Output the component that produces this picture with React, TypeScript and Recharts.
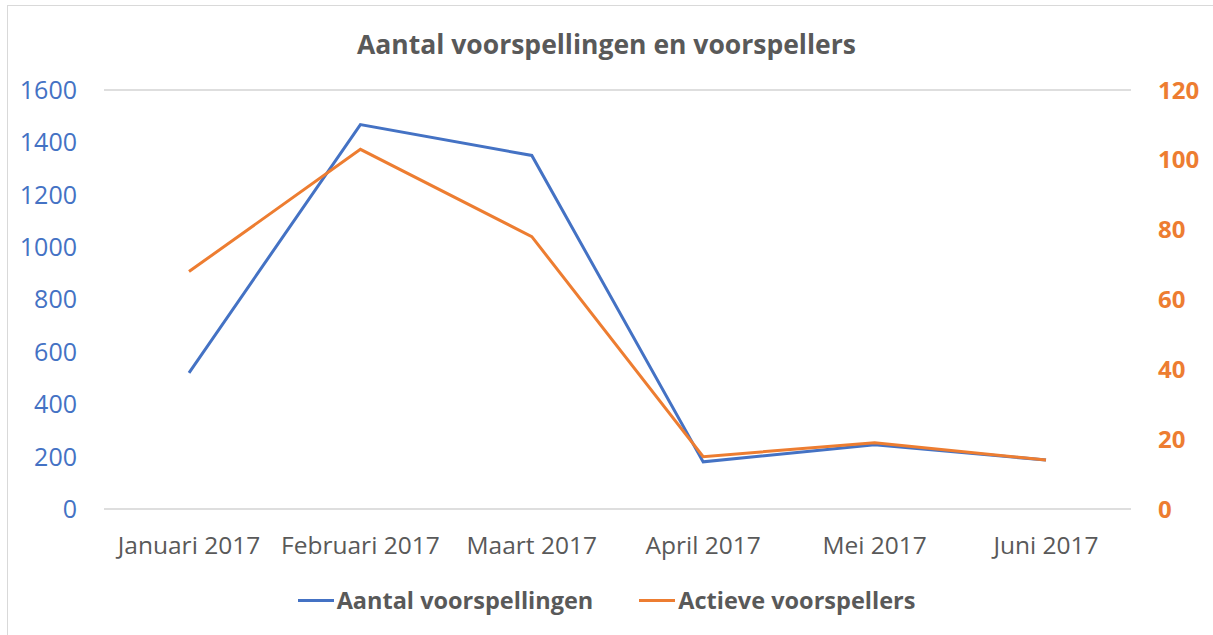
import { LineChart, Line, XAxis, YAxis, CartesianGrid } from "recharts";

// ── Data ──────────────────────────────────────────────────────────────────────

const months = ["Januari 2017", "Februari 2017", "Maart 2017", "April 2017", "Mei 2017", "Juni 2017"];
const voorspellingen = [520, 1468, 1350, 180, 245, 187];
const voorspellers = [68, 103, 78, 15, 19, 14];
const leftTicks = [0, 200, 400, 600, 800, 1000, 1200, 1400, 1600];
const rightTicks = [0, 20, 40, 60, 80, 100, 120];

const data = months.map((m, i) => ({
  month: m,
  "Aantal voorspellingen": voorspellingen[i],
  "Actieve voorspellers": voorspellers[i],
}));

const BLUE = "#4472C4";
const ORANGE = "#ED7D31";
const GREY = "#595959";
const FONT = "'Open Sans', sans-serif";

function ChartLegend() {
  const items = [
    { name: "Aantal voorspellingen", color: BLUE },
    { name: "Actieve voorspellers", color: ORANGE },
  ];
  return (
    <div
      style={{
        position: "absolute",
        top: 584,
        left: 0,
        width: 1213,
        display: "flex",
        justifyContent: "center",
        gap: 46,
        fontFamily: FONT,
      }}
    >
      {items.map((it) => (
        <div key={it.name} style={{ display: "flex", alignItems: "center" }}>
          <span style={{ display: "inline-block", width: 36, height: 3, background: it.color, marginRight: 3 }} />
          <span style={{ fontSize: 23.5, fontWeight: 700, color: GREY, lineHeight: "32px" }}>{it.name}</span>
        </div>
      ))}
    </div>
  );
}

export default function App() {
  return (
    <div
      style={{
        position: "absolute",
        left: 0,
        top: 0,
        width: 1213,
        height: 635,
        background: "#fff",
        fontFamily: FONT,
        overflow: "hidden",
      }}
    >
      <div
        style={{
          position: "absolute",
          left: 7,
          top: 5,
          right: -2,
          bottom: -2,
          borderLeft: "1px solid #d9d9d9",
          borderTop: "1px solid #d9d9d9",
        }}
      />
      <div
        style={{
          position: "absolute",
          top: 26,
          left: 0,
          width: 1213,
          textAlign: "center",
          fontSize: 26.5,
          fontWeight: 700,
          color: GREY,
          lineHeight: "36px",
        }}
      >
        Aantal voorspellingen en voorspellers
      </div>
      <LineChart
        width={1213}
        height={635}
        data={data}
        margin={{ top: 90, right: 0, bottom: 76, left: 0 }}
        style={{ position: "absolute", left: 0, top: 0 }}
      >
        <CartesianGrid stroke="#dedede" strokeWidth={2} vertical={false} />
        <XAxis
          dataKey="month"
          axisLine={false}
          tickLine={false}
          tickSize={0}
          tickMargin={28}
          height={50}
          interval={0}
          padding={{ left: 85, right: 85 }}
          tick={{ fill: GREY, fontSize: 24.5, fontFamily: FONT }}
        />
        <YAxis
          yAxisId="left"
          domain={[0, 1600]}
          ticks={leftTicks}
          axisLine={false}
          tickLine={false}
          tickSize={0}
          tickMargin={27}
          width={104}
          tick={{ fill: BLUE, fontSize: 25, fontFamily: FONT }}
        />
        <YAxis
          yAxisId="right"
          orientation="right"
          domain={[0, 120]}
          ticks={rightTicks}
          axisLine={false}
          tickLine={false}
          tickSize={0}
          tickMargin={27}
          width={82}
          tick={{ fill: ORANGE, fontSize: 24, fontWeight: 700, fontFamily: FONT }}
        />
        <Line
          yAxisId="left"
          type="linear"
          dataKey="Aantal voorspellingen"
          stroke={BLUE}
          strokeWidth={3}
          dot={false}
          isAnimationActive={false}
        />
        <Line
          yAxisId="right"
          type="linear"
          dataKey="Actieve voorspellers"
          stroke={ORANGE}
          strokeWidth={3}
          dot={false}
          isAnimationActive={false}
        />
      </LineChart>
      <ChartLegend />
    </div>
  );
}
